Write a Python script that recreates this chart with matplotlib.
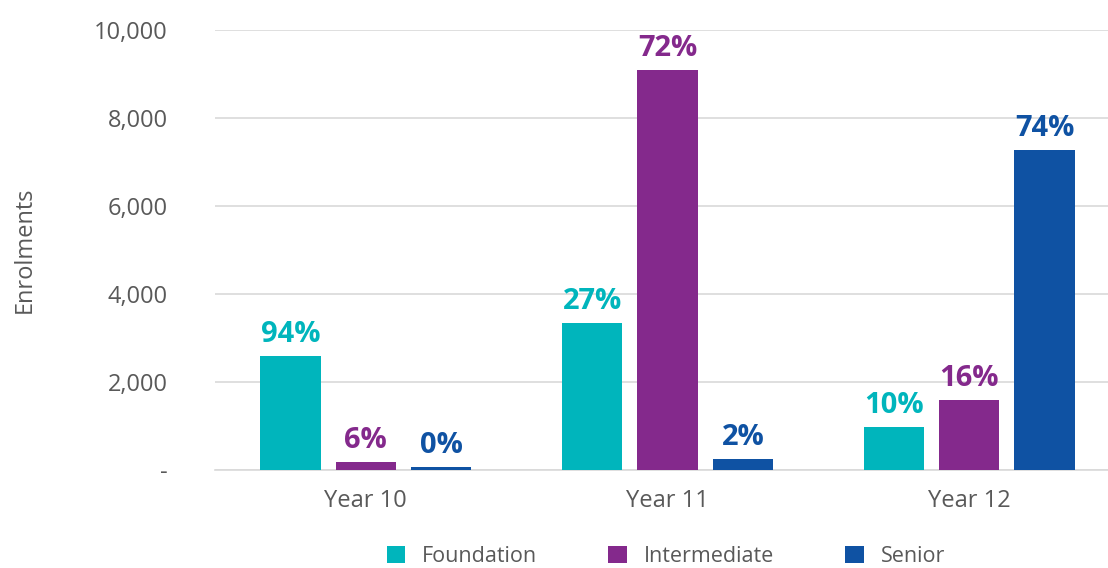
import numpy as np
import matplotlib.pyplot as plt
from matplotlib.ticker import FuncFormatter

years = ["Year 10", "Year 11", "Year 12"]
series = ["Foundation", "Intermediate", "Senior"]
foundation = [2600, 3340, 980]
intermediate = [180, 9090, 1590]
senior = [60, 250, 7270]
pct_labels = [["94%", "27%", "10%"], ["6%", "72%", "16%"], ["0%", "2%", "74%"]]
colors = ["#00B5BC", "#84298C", "#0F52A3"]


def main() -> None:
    plt.rcParams['font.family'] = ['Open Sans', 'DejaVu Sans']
    fig = plt.figure(figsize=(11.08, 5.68), dpi=100)
    ax = fig.add_axes([0.194, 0.1725, 0.806, 0.7745])

    x = np.arange(len(years))
    width = 0.2
    offsets = [-0.25, 0.0, 0.25]
    values = [foundation, intermediate, senior]

    for i, (name, vals) in enumerate(zip(series, values)):
        bars = ax.bar(x + offsets[i], vals, width, color=colors[i], label=name, zorder=3)
        for bar, txt in zip(bars, pct_labels[i]):
            ax.annotate(txt, (bar.get_x() + bar.get_width() / 2, bar.get_height()),
                        xytext=(0, 5), textcoords="offset points",
                        ha="center", va="bottom", fontsize=21, fontweight="bold",
                        color=colors[i])

    ax.set_xlim(-0.5, 2.46)
    ax.set_ylim(0, 10000)
    ax.set_yticks(np.arange(0, 10001, 2000))
    ax.yaxis.set_major_formatter(FuncFormatter(lambda v, p: "-" if v == 0 else f"{int(v):,}"))
    ax.set_xticks(x)
    ax.set_xticklabels(years)
    ax.grid(axis="y", color="#D9D9D9", linewidth=1.2, zorder=0)
    for s in ["top", "right", "left"]:
        ax.spines[s].set_visible(False)
    ax.spines["bottom"].set_color("#D9D9D9")
    ax.spines["bottom"].set_linewidth(1.2)
    ax.tick_params(axis="both", length=0, labelsize=17, colors="#595959")
    ax.tick_params(axis="y", pad=34)
    ax.tick_params(axis="x", pad=14)
    ax.set_ylabel("Enrolments", fontsize=17, color="#595959")
    ax.yaxis.set_label_coords(-0.2, 0.5)

    ax.legend(loc="center", bbox_to_anchor=(0.505, -0.197), ncol=3, frameon=False,
              fontsize=15.5, labelcolor="#595959", handlelength=0.85, handleheight=0.85,
              columnspacing=3.3, handletextpad=0.8, borderpad=0)

    fig.savefig("out.png", dpi=100)


if __name__ == '__main__':
    main()
